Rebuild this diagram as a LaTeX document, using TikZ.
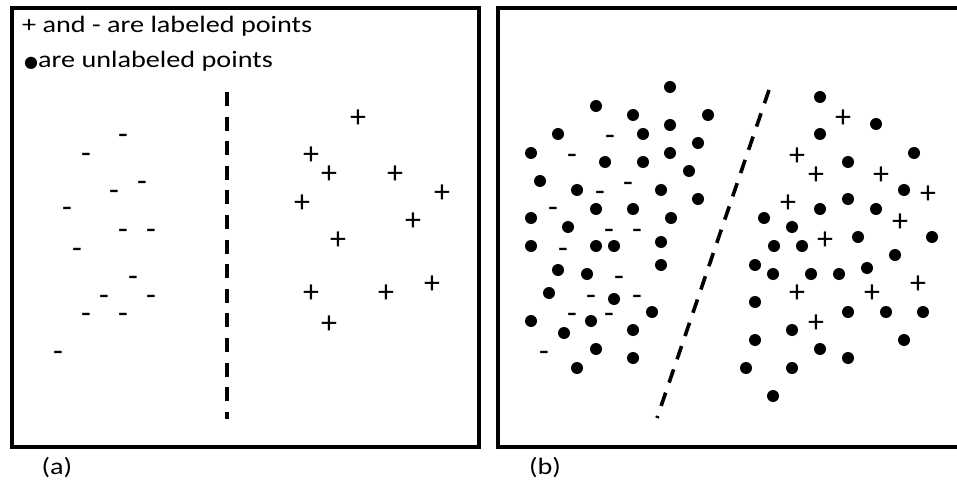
\documentclass[tikz,border=0pt]{standalone}
\usepackage{fontspec}
\setmainfont[FakeStretch=1.2]{Carlito}
\newfontfamily\markfont{Carlito}
\newfontfamily\symfont{DejaVu Sans}
\usetikzlibrary{positioning}

\tikzset{
  panel/.style={line width=3.2pt},
  sepline/.style={line width=3.6pt, dash pattern=on 14pt off 10.6pt},
  dot/.style={circle, fill=black, inner sep=0pt, minimum size=12pt},
  posmark/.style={font=\markfont\fontsize{32}{36}\selectfont, inner sep=0pt, anchor=base, yshift=-10.3pt},
  negmark/.style={font=\markfont\fontsize{32}{36}\selectfont, inner sep=0pt, anchor=base, yshift=-9pt},
  legendtext/.style={font=\fontsize{23.5}{28}\selectfont, inner sep=0pt, anchor=base west},
  captiontext/.style={font=\fontsize{23.5}{28}\selectfont, inner sep=0pt}
}

\begin{document}
\begin{tikzpicture}[x=1pt,y=-1pt]
\useasboundingbox (0,0) rectangle (957,486);

% (a) labeled points only
\draw[panel] (12,8) rectangle (479,447);
\node[legendtext] (legend1) at (22,33) {+ and - are labeled points};
\node[legendtext] (legend2) at (24,68) {\raisebox{0pt}{\symfont\fontsize{16}{18}\selectfont ●}are unlabeled points};
\coordinate (sepa-top) at (227,92);
\coordinate (sepa-bot) at (227,419);
\draw[sepline] (sepa-top) -- (sepa-bot);
\foreach \x/\y [count=\i] in {123/136,86/155,142/183,114/192,67/209,123/230,151/230,
  77/249,133/277,104/296,151/296,86/314,123/314,58/352}
  \node[negmark] (nega\i) at (\x,\y) {-};
\foreach \x/\y [count=\i] in {358/117,311/154,329/173,395/173,442/192,302/202,413/220,
  338/239,311/292,386/292,432/283,329/323}
  \node[posmark] (posa\i) at (\x,\y) {+};
\node[captiontext] (capa) at (57,468) {(a)};

% (b) labeled and unlabeled points
\draw[panel] (958,8) -- (498,8) -- (498,447) -- (958,447);
\coordinate (sepb-top) at (769,90);
\coordinate (sepb-bot) at (657,418);
\draw[sepline] (sepb-top) -- (sepb-bot);
\foreach \x/\y [count=\i] in {670/87,596/106,633/115,708/115,558/134,643/134,670/125,
  698/143,531/153,605/162,643/162,670/153,689/171,540/181,577/190,661/190,698/199,
  596/209,633/209,531/218,568/227,671/218,531/246,596/246,614/246,661/242,
  558/270,587/274,661/265,549/293,614/299,652/312,531/321,591/321,564/333,633/330,
  596/349,633/358,577/368,
  820/97,876/124,820/134,914/153,848/162,904/190,848/199,820/209,876/209,764/218,
  792/227,858/237,932/237,774/246,802/246,895/255,
  755/265,773/274,811/274,839/274,867/268,755/302,848/312,886/312,923/312,792/330,
  755/340,904/340,820/349,848/358,746/368,792/368,773/396}
  \node[dot] (dotb\i) at (\x,\y) {};
\foreach \x/\y [count=\i] in {610/137,572/156,628/184,600/193,553/209,609/230,637/230,
  563/249,619/277,591/296,637/296,572/314,609/314,544/352}
  \node[negmark] (negb\i) at (\x,\y) {-};
\foreach \x/\y [count=\i] in {843/117,797/155,816/174,881/174,928/193,788/202,900/221,
  825/239,797/292,872/292,918/283,816/322}
  \node[posmark] (posb\i) at (\x,\y) {+};
\node[captiontext] (capb) at (545,468) {(b)};
\end{tikzpicture}
\end{document}
